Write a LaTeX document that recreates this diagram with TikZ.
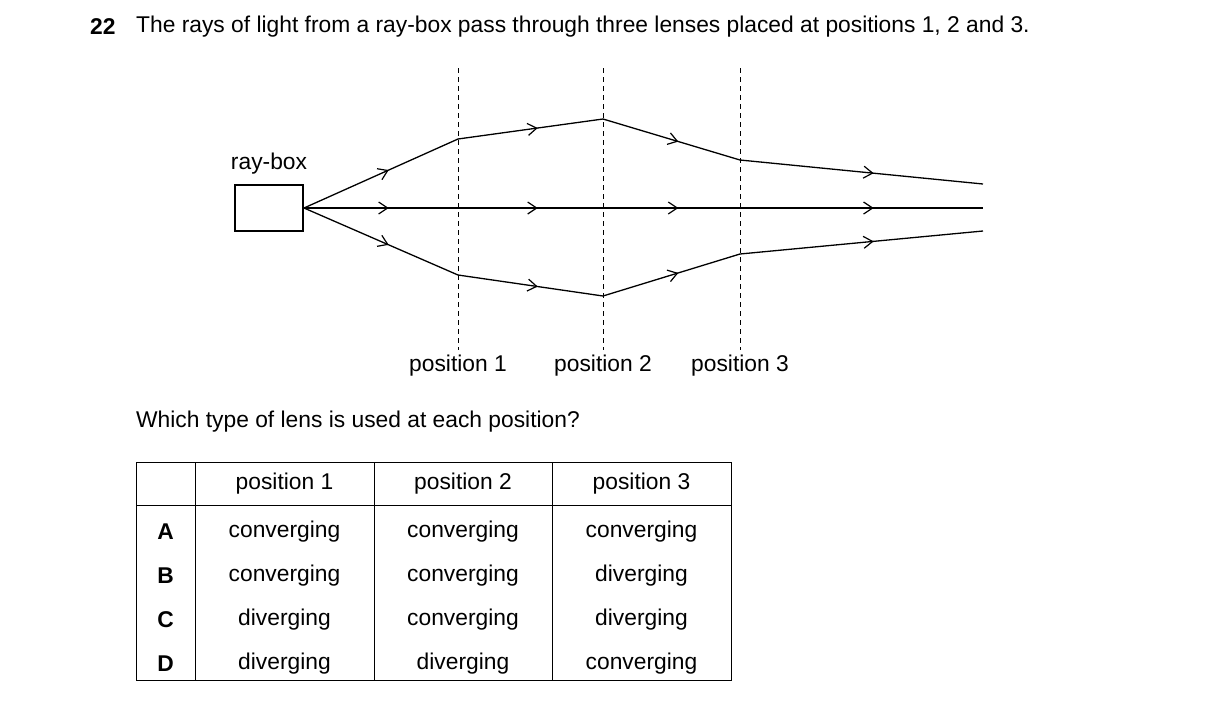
\documentclass[tikz,border=0pt]{standalone}
\usepackage{fontspec}
\setmainfont{Liberation Sans}
\usetikzlibrary{decorations.markings,arrows.meta}
\begin{document}
\begin{tikzpicture}[x=1pt,y=-1pt,
  ray/.style={line width=1.3pt,postaction={decorate},decoration={markings,mark=at position 0.55 with {\arrow{Straight Barb[length=9pt,width=12pt,line width=1.2pt]}}}},
  lens/.style={dash pattern=on 5pt off 4pt,line width=0.8pt},
  txt/.style={font=\fontsize{22.8}{26}\selectfont,inner sep=0pt},
  grid/.style={line width=1pt}]
\useasboundingbox (0,0) rectangle (1216,705);
\node[txt,anchor=west] (num) at (90,27) {\textbf{22}};
\node[txt,anchor=west] (title) at (136,27) {The rays of light from a ray-box pass through three lenses placed at positions 1, 2 and 3.};
% lenses
\foreach \x/\n in {458/1,603/2,740/3}{
  \draw[lens] (\x,68) -- (\x,350);
  \node[txt] (p\n) at (\x,366) {position \n};
}
\draw[line width=1.2pt] (235,185) rectangle (303,231);
\node[txt] (rb) at (269,164) {ray-box};
\coordinate (s) at (304,208);
\coordinate (t1) at (458,139); \coordinate (t2) at (603,119); \coordinate (t3) at (740,160); \coordinate (t4) at (983,184);
\coordinate (m1) at (458,208); \coordinate (m2) at (603,208); \coordinate (m3) at (740,208); \coordinate (m4) at (983,208);
\coordinate (b1) at (458,275); \coordinate (b2) at (603,296); \coordinate (b3) at (740,254); \coordinate (b4) at (983,231);
\foreach \r in {t,m,b}{
  \draw[ray] (s) -- (\r1);
  \draw[ray] (\r1) -- (\r2);
  \draw[ray] (\r2) -- (\r3);
  \draw[ray] (\r3) -- (\r4);
}
\node[txt,anchor=west] (q) at (136,422) {Which type of lens is used at each position?};
% table
\draw[grid] (136,462) rectangle (731,680);
\draw[grid] (136,505) -- (731,505);
\foreach \x in {195,374,552} \draw[grid] (\x,462) -- (\x,680);
\node[txt] (h1) at (284.5,484) {position 1};
\node[txt] (h2) at (463,484) {position 2};
\node[txt] (h3) at (641.5,484) {position 3};
\foreach \l/\a/\b/\c/\y in {A/converging/converging/converging/532,B/converging/converging/diverging/576,C/diverging/converging/diverging/620,D/diverging/diverging/converging/664}{
  \node[txt] at (165.5,\y) {\textbf{\l}};
  \node[txt] at (284.5,\y) {\a};
  \node[txt] at (463,\y) {\b};
  \node[txt] at (641.5,\y) {\c};
}
\end{tikzpicture}
\end{document}
